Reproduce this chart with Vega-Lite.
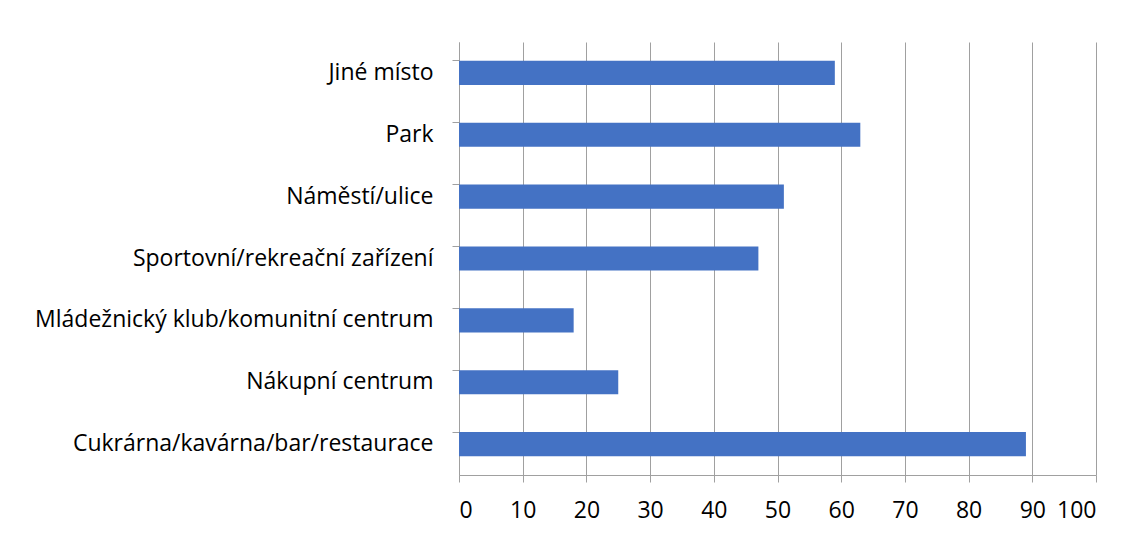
{
  "$schema": "https://vega.github.io/schema/vega-lite/v6.json",
  "autosize": {"type": "none"},
  "padding": {"left": 459, "top": 42, "right": 38, "bottom": 59},
  "width": 637,
  "height": 433,
  "background": "white",
  "config": {"view": {"stroke": null}, "font": "Open Sans"},
  "data": {"values": [
    {"misto": "Jiné místo", "pocet": 59},
    {"misto": "Park", "pocet": 63},
    {"misto": "Náměstí/ulice", "pocet": 51},
    {"misto": "Sportovní/rekreační zařízení", "pocet": 47},
    {"misto": "Mládežnický klub/komunitní centrum", "pocet": 18},
    {"misto": "Nákupní centrum", "pocet": 25},
    {"misto": "Cukrárna/kavárna/bar/restaurace", "pocet": 89}
  ]},
  "mark": {"type": "bar", "color": "#4472C4"},
  "encoding": {
    "y": {
      "field": "misto", "type": "nominal", "sort": null,
      "scale": {"paddingInner": 0.61, "paddingOuter": 0.305},
      "axis": {
        "title": null, "grid": false, "bandPosition": 0,
        "domainColor": "#a0a0a0", "tickColor": "#a0a0a0", "tickSize": 7,
        "labelFontSize": 23, "labelColor": "#000000", "labelPadding": 19,
        "labelLimit": 500, "labelFont": "Open Sans"
      }
    },
    "x": {
      "field": "pocet", "type": "quantitative",
      "scale": {"domain": [0, 100], "nice": false},
      "axis": {
        "title": null, "values": [0,10,20,30,40,50,60,70,80,90,100],
        "grid": true, "gridColor": "#a0a0a0", "gridOpacity": 1,
        "domainColor": "#a0a0a0", "tickColor": "#a0a0a0", "tickSize": 7,
        "labelFontSize": 23, "labelColor": "#000000", "labelPadding": 17,
        "labelFont": "Open Sans"
      }
    }
  }
}
